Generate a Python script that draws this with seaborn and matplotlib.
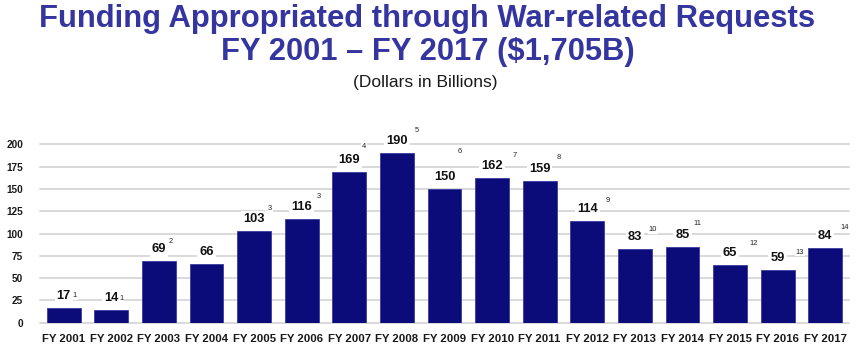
import matplotlib
matplotlib.use("Agg")
import matplotlib.pyplot as plt
import seaborn as sns
import pandas as pd

# ---- data ----
years = ["FY 2001", "FY 2002", "FY 2003", "FY 2004", "FY 2005", "FY 2006",
         "FY 2007", "FY 2008", "FY 2009", "FY 2010", "FY 2011", "FY 2012",
         "FY 2013", "FY 2014", "FY 2015", "FY 2016", "FY 2017"]
funding = [17, 14, 69, 66, 103, 116, 169, 190, 150, 162, 159, 114,
           83, 85, 65, 59, 84]
notes = ["1", "1", "2", "", "3", "3", "4", "5", "6", "7", "8", "9",
         "10", "11", "12", "13", "14"]
yticks = [0, 25, 50, 75, 100, 125, 150, 175, 200]

# ---- styling (footnote marker offsets in pixels relative to value label) ----
note_dx = [11, 10, 12, 0, 16, 17, 15, 20, 15, 23, 19, 20, 18, 15, 24, 22, 19]
note_dy = [0, 0, 8, 0, 10, 11, 13, 11, 25, 11, 11, 9, 7, 11, 9, 6, 8]

BAR = "#0b0b7a"
TITLE = "#3535a0"

sns.set_theme(style="white")
plt.rcParams["font.family"] = ["Liberation Sans", "DejaVu Sans"]

df = pd.DataFrame({"year": years, "funding": funding})

fig = plt.figure(figsize=(8.61, 3.47), dpi=100)
ax = fig.add_axes([40 / 861, (347 - 322.7) / 347, (849 - 40) / 861, 178.4 / 347])

sns.barplot(data=df, x="year", y="funding", color=BAR, saturation=1,
            width=0.71, edgecolor="#3a3aa0", linewidth=0.6, ax=ax, zorder=3)

ax.set_ylim(0, 200)
ax.set_xlim(-0.5, len(years) - 0.5)
ax.set_yticks(yticks)
ax.set_yticklabels([str(t) for t in yticks])
for t in yticks:
    ax.axhline(t, color="#d9d9d9", lw=1.4, zorder=1, clip_on=False)
for s in ax.spines.values():
    s.set_visible(False)
ax.set_xlabel("")
ax.set_ylabel("")
ax.tick_params(axis="x", length=0, pad=8, labelsize=8.2)
ax.tick_params(axis="y", length=0, pad=12, labelsize=7.2)
for lab in ax.get_xticklabels() + ax.get_yticklabels():
    lab.set_fontweight("bold")
    lab.set_color("#1a1a1a")

for i, (v, n) in enumerate(zip(funding, notes)):
    ax.annotate(str(v), xy=(i, v), xytext=(0, 12), textcoords="offset pixels",
                ha="center", va="center", fontsize=9.3, fontweight="bold",
                color="#111111", zorder=5, annotation_clip=False,
                bbox=dict(boxstyle="square,pad=0.15", fc="white", ec="none"))
    if n:
        ax.annotate(n, xy=(i, v),
                    xytext=(note_dx[i], 12 + note_dy[i]),
                    textcoords="offset pixels", ha="center", va="center",
                    fontsize=5.4, color="#222222", zorder=5,
                    annotation_clip=False,
                    bbox=dict(boxstyle="square,pad=0.1", fc="white", ec="none"))

fig.text(0.496, 1 - 19 / 347, "Funding Appropriated through War-related Requests",
         ha="center", va="center", fontsize=22.3, fontweight="bold", color=TITLE)
fig.text(0.497, 1 - 52 / 347, "FY 2001 \u2013 FY 2017 ($1,705B)",
         ha="center", va="center", fontsize=22.2, fontweight="bold", color=TITLE)
fig.text(0.494, 1 - 82 / 347, "(Dollars in Billions)",
         ha="center", va="center", fontsize=12.5, color="#1a1a1a")

fig.savefig("out.png", dpi=100, facecolor="white")
